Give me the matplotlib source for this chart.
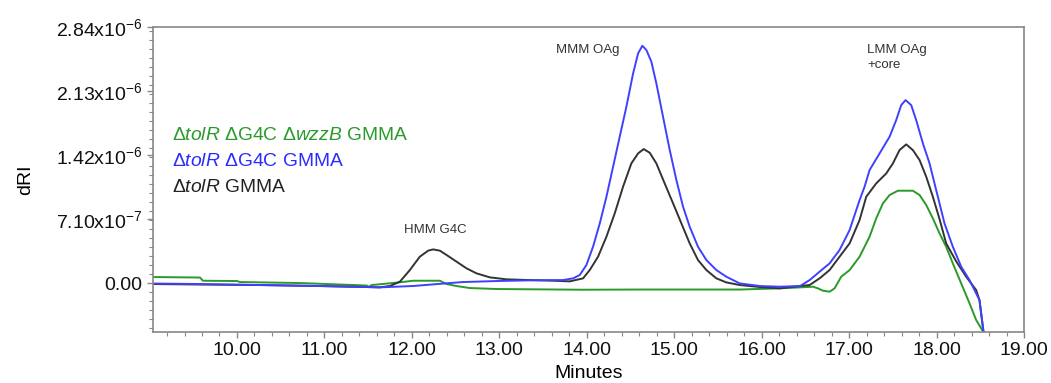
import matplotlib.pyplot as plt
from matplotlib.ticker import FixedLocator, MultipleLocator, FuncFormatter
import numpy as np

plt.rcParams["font.family"] = ["Liberation Sans", "DejaVu Sans"]
plt.rcParams["mathtext.fontset"] = "custom"
plt.rcParams["mathtext.rm"] = "Liberation Sans"
plt.rcParams["mathtext.it"] = "Liberation Sans:italic"

# Elution time (minutes) and dRI signal (units of 1e-7)
black_t = [9.04, 9.577, 10.263, 10.949, 11.486, 11.634, 11.749, 11.863, 11.977, 12.091,
           12.186, 12.243, 12.32, 12.397, 12.511, 12.625, 12.74, 12.891, 13.082, 13.349,
           13.615, 13.806, 13.958, 14.034, 14.129, 14.225, 14.32, 14.415, 14.51, 14.587,
           14.651, 14.72, 14.796, 14.891, 14.987, 15.082, 15.177, 15.272, 15.368, 15.482,
           15.596, 15.749, 15.977, 16.206, 16.549, 16.663, 16.777, 16.891, 17.006, 17.12,
           17.196, 17.31, 17.425, 17.501, 17.577, 17.653, 17.729, 17.806, 17.882, 17.958,
           18.034, 18.11, 18.225, 18.339, 18.453, 18.491, 18.537]
black_v = [-0.111, -0.166, -0.222, -0.333, -0.444, -0.48, -0.33, 0.15, 1.44, 2.92,
           3.59, 3.73, 3.59, 3.11, 2.37, 1.63, 1.07, 0.63, 0.41, 0.33,
           0.26, 0.185, 0.52, 1.44, 2.92, 5.14, 7.73, 10.68, 13.27, 14.38,
           14.86, 14.45, 13.27, 11.05, 8.84, 6.62, 4.40, 2.55, 1.44, 0.52,
           0.07, -0.22, -0.44, -0.59, -0.22, 0.52, 1.44, 2.92, 4.40, 6.99,
           9.57, 11.05, 12.16, 13.27, 14.75, 15.38, 14.75, 13.64, 11.79, 9.57,
           7.10, 4.40, 2.40, 0.70, -0.78, -1.89, -5.45]

blue_t = [9.04, 9.577, 10.263, 10.949, 11.486, 11.634, 12.015, 12.206, 12.397, 12.586,
          12.968, 13.349, 13.73, 13.844, 13.92, 13.996, 14.072, 14.149, 14.225, 14.301,
          14.377, 14.453, 14.53, 14.587, 14.636, 14.682, 14.739, 14.796, 14.872, 14.949,
          15.025, 15.101, 15.177, 15.272, 15.368, 15.482, 15.596, 15.749, 15.977, 16.206,
          16.44, 16.549, 16.663, 16.777, 16.891, 17.006, 17.12, 17.177, 17.234, 17.349,
          17.463, 17.539, 17.596, 17.646, 17.71, 17.767, 17.844, 17.92, 17.996, 18.091,
          18.186, 18.282, 18.377, 18.453, 18.491, 18.537]
blue_v = [-0.055, -0.111, -0.222, -0.333, -0.444, -0.48, -0.33, -0.18, -0.03, 0.11,
          0.22, 0.30, 0.33, 0.52, 0.89, 2.00, 4.03, 6.62, 9.57, 12.90,
          16.23, 19.55, 23.25, 25.47, 26.32, 25.84, 24.55, 22.14, 18.45, 14.75,
          11.42, 8.47, 6.25, 4.03, 2.55, 1.44, 0.70, -0.04, -0.33, -0.41,
          -0.33, 0.33, 1.26, 2.18, 3.66, 5.88, 9.20, 10.68, 12.53, 14.38,
          16.23, 18.08, 19.74, 20.29, 19.74, 18.08, 15.49, 13.27, 10.31, 6.62,
          4.03, 1.81, 0.33, -1.15, -1.89, -5.40]

green_t = [9.04, 9.577, 9.611, 10.0, 10.034, 10.72, 11.177, 11.486, 11.497, 11.543,
           11.863, 12.015, 12.32, 12.397, 12.511, 12.663, 12.971, 13.954, 14.606, 15.291,
           15.749, 16.206, 16.587, 16.644, 16.701, 16.777, 16.834, 16.91, 17.006, 17.12,
           17.234, 17.31, 17.387, 17.463, 17.558, 17.729, 17.806, 17.882, 17.958, 18.034,
           18.11, 18.186, 18.282, 18.377, 18.453, 18.537]
green_v = [0.665, 0.61, 0.255, 0.222, 0.111, 0.0, -0.166, -0.277, -0.444, -0.222,
           0.078, 0.255, 0.255, -0.111, -0.333, -0.555, -0.665, -0.743, -0.721, -0.721,
           -0.721, -0.59, -0.41, -0.59, -0.85, -0.96, -0.59, 0.70, 1.44, 2.92,
           5.14, 7.17, 8.84, 9.76, 10.24, 10.24, 9.76, 8.65, 7.17, 5.51,
           4.03, 2.18, -0.04, -2.25, -4.10, -5.45]

y_ticks = [0.0, 7.10e-7, 1.42e-6, 2.13e-6, 2.84e-6]
y_tick_labels = ["0.00", "7.10x10$^{-7}$", "1.42x10$^{-6}$", "2.13x10$^{-6}$", "2.84x10$^{-6}$"]
x_ticks = [10, 11, 12, 13, 14, 15, 16, 17, 18, 19]

legend_lines = [
    ("$\\Delta\\it{tolR}$ $\\Delta$G4C $\\Delta\\it{wzzB}$ GMMA", "#2a9a2a"),
    ("$\\Delta\\it{tolR}$ $\\Delta$G4C GMMA", "#2b2bff"),
    ("$\\Delta\\it{tolR}$ GMMA", "#222222"),
]

fig = plt.figure(figsize=(10.51, 3.83), dpi=100)
ax = fig.add_axes([0.1456, 0.1332, 0.8287, 0.7963])

scale = 1e-7
ax.plot(green_t, np.array(green_v) * scale, color="#2a9a2a", lw=1.4)
ax.plot(black_t, np.array(black_v) * scale, color="#333333", lw=1.4)
ax.plot(blue_t, np.array(blue_v) * scale, color="#4040ff", lw=1.4)

ax.set_xlim(9.04, 19.0)
ax.set_ylim(-5.43e-7, 2.84e-6)

ax.xaxis.set_major_locator(FixedLocator(x_ticks))
ax.xaxis.set_major_formatter(FuncFormatter(lambda v, p: f"{v:.2f}"))
ax.xaxis.set_minor_locator(MultipleLocator(0.2))
ax.yaxis.set_major_locator(FixedLocator(y_ticks))
ax.set_yticklabels(y_tick_labels)
ax.yaxis.set_minor_locator(MultipleLocator(1e-7))

ax.tick_params(axis="both", which="both", direction="out", color="#888888",
               labelsize=14, labelcolor="#111111")
ax.tick_params(which="major", length=4, width=1)
ax.tick_params(which="minor", length=3, width=0.8)
for s in ax.spines.values():
    s.set_color("#888888")
    s.set_linewidth(1.2)

ax.set_xlabel("Minutes", fontsize=14, labelpad=4)
ax.set_ylabel("dRI", fontsize=14, labelpad=16)

# legend text, drawn as coloured labels like the original
for i, (txt, col) in enumerate(legend_lines):
    ax.text(0.0215, 0.643 - i * 0.084, txt, transform=ax.transAxes, color=col,
            fontsize=13.9, va="center", ha="left")

ax.text(12.27, 5.9e-7, "HMM G4C", fontsize=9.5, color="#333333", ha="center", va="center")
ax.text(14.01, 2.58e-6, "MMM OAg", fontsize=9.5, color="#333333", ha="center", va="center")
ax.text(17.21, 2.50e-6, "LMM OAg\n+core", fontsize=9.5, color="#333333", ha="left",
        va="center", linespacing=1.3)

fig.savefig("out.png", dpi=100)
